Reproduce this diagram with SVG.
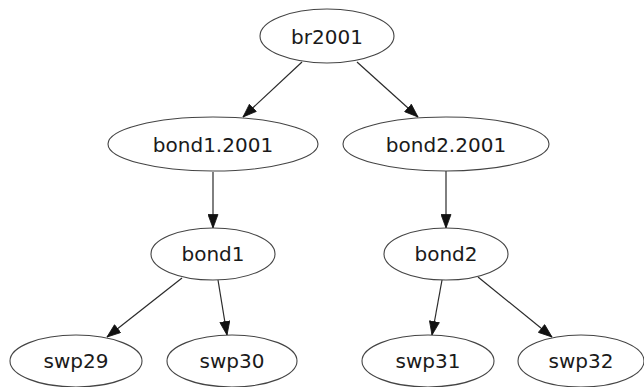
<svg xmlns="http://www.w3.org/2000/svg" width="644" height="387" viewBox="0 0 644 387">
  <style>
    .node ellipse { fill: #ffffff; stroke: #444444; stroke-width: 1.1; }
    .node text { font-family: "DejaVu Sans", sans-serif; font-size: 20px; fill: #1a1a1a; text-anchor: middle; dominant-baseline: central; }
    .edge { fill: none; stroke: #2a2a2a; stroke-width: 1.2; marker-end: url(#arrow); }
  </style>
  <defs>
    <marker id="arrow" markerUnits="userSpaceOnUse" markerWidth="15" markerHeight="11" viewBox="0 0 15 11" refX="14" refY="5.5" orient="auto">
      <path d="M0.5,0.5 L14,5.5 L0.5,10.5 Z" fill="#111111" stroke="#111111" stroke-width="0.8"/>
    </marker>
  </defs>
  <rect width="644" height="387" fill="#ffffff"/>

  <g id="edges">
    <path class="edge" d="M302,62 L243,117"/>
    <path class="edge" d="M357,62 L418,117"/>
    <path class="edge" d="M213,172 L213,228"/>
    <path class="edge" d="M446,171 L446,228"/>
    <path class="edge" d="M182,278 L107,337"/>
    <path class="edge" d="M218,280 L227,335"/>
    <path class="edge" d="M442,280 L432,335"/>
    <path class="edge" d="M478,277 L552,337"/>
  </g>

  <g id="br2001" class="node">
    <ellipse cx="327" cy="36" rx="67" ry="27"/>
    <text x="327" y="37">br2001</text>
  </g>
  <g id="bond1.2001" class="node">
    <ellipse cx="213" cy="144" rx="105" ry="27"/>
    <text x="213" y="145">bond1.2001</text>
  </g>
  <g id="bond2.2001" class="node">
    <ellipse cx="446" cy="144" rx="103" ry="27"/>
    <text x="446" y="145">bond2.2001</text>
  </g>
  <g id="bond1" class="node">
    <ellipse cx="213" cy="254" rx="62" ry="26"/>
    <text x="213" y="254">bond1</text>
  </g>
  <g id="bond2" class="node">
    <ellipse cx="446" cy="254" rx="62" ry="26"/>
    <text x="446" y="254">bond2</text>
  </g>
  <g id="swp29" class="node">
    <ellipse cx="76" cy="361" rx="66" ry="26"/>
    <text x="76" y="361">swp29</text>
  </g>
  <g id="swp30" class="node">
    <ellipse cx="232" cy="361" rx="65" ry="26"/>
    <text x="232" y="361">swp30</text>
  </g>
  <g id="swp31" class="node">
    <ellipse cx="428" cy="361" rx="66" ry="26"/>
    <text x="428" y="361">swp31</text>
  </g>
  <g id="swp32" class="node">
    <ellipse cx="581" cy="361" rx="63" ry="26"/>
    <text x="581" y="361">swp32</text>
  </g>
</svg>
